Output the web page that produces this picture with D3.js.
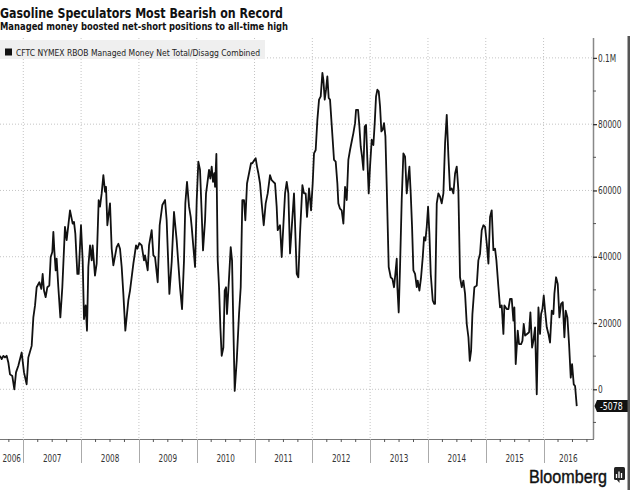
<!DOCTYPE html>
<html><head><meta charset="utf-8">
<script src="https://cdn.jsdelivr.net/npm/d3@7"></script>
<style>html,body{margin:0;padding:0;background:#fff;}svg{display:block;}</style>
</head><body>
<svg id="c" width="630" height="490"></svg>
<script>
const titleText = "Gasoline Speculators Most Bearish on Record";
const subtitleText = "Managed money boosted net-short positions to all-time high";
const legendText = "CFTC NYMEX RBOB Managed Money Net Total/Disagg Combined";
const yearLabels = ["2006","2007","2008","2009","2010","2011","2012","2013","2014","2015","2016"];
const yTickValues = [0, 20, 40, 60, 80, 100];
const yTickLabels = ["0", "20000", "40000", "60000", "80000", "0.1M"];
const lastLabel = "-5078";

// decimal years
const dates = [
2006.597,2006.626,2006.655,2006.683,2006.712,2006.741,2006.770,2006.810,2006.845,2006.874,2006.914,2006.972,
2007.012,2007.058,2007.087,2007.145,2007.174,2007.203,2007.231,2007.278,2007.312,2007.335,2007.358,2007.387,
2007.416,2007.450,2007.474,2007.502,2007.520,2007.537,2007.560,2007.577,2007.606,2007.641,2007.675,2007.721,
2007.750,2007.808,2007.854,2007.877,2007.900,2007.935,2007.958,2007.998,
2008.027,2008.050,2008.079,2008.102,2008.125,2008.154,2008.183,2008.200,2008.240,2008.269,2008.304,2008.327,
2008.356,2008.385,2008.414,2008.431,2008.454,2008.500,2008.529,2008.558,2008.615,2008.644,2008.673,2008.702,
2008.731,2008.765,2008.817,2008.846,2008.904,2008.950,2008.973,
2009.008,2009.048,2009.088,2009.106,2009.152,2009.175,2009.221,2009.250,2009.279,2009.325,2009.359,2009.405,
2009.452,2009.480,2009.527,2009.567,2009.607,2009.653,2009.682,2009.711,2009.746,2009.780,2009.803,2009.832,
2009.867,2009.896,2009.913,2009.942,2009.971,
2010.000,2010.028,2010.057,2010.086,2010.109,2010.144,2010.161,2010.184,2010.213,2010.236,2010.259,2010.282,
2010.305,2010.317,2010.340,2010.363,2010.386,2010.409,2010.432,2010.461,2010.484,2010.507,2010.524,2010.547,
2010.588,2010.611,2010.634,2010.657,2010.692,2010.732,2010.761,2010.789,2010.818,2010.841,2010.870,2010.905,
2010.939,2010.962,2010.997,
2011.020,2011.043,2011.066,2011.095,2011.124,2011.159,2011.193,2011.228,2011.268,2011.297,2011.326,2011.355,
2011.383,2011.401,2011.441,2011.470,2011.499,2011.528,2011.557,2011.585,2011.614,2011.683,2011.730,2011.758,
2011.787,2011.828,2011.856,2011.885,2011.908,2011.943,2011.978,
2012.006,2012.029,2012.058,2012.087,2012.116,2012.145,2012.174,2012.191,2012.214,2012.237,2012.260,2012.283,
2012.306,2012.329,2012.352,2012.375,2012.404,2012.433,2012.450,2012.479,2012.508,2012.537,2012.566,2012.595,
2012.623,2012.652,2012.687,2012.710,2012.739,2012.756,2012.791,2012.814,2012.837,2012.860,2012.883,2012.906,
2012.929,2012.952,2012.975,2012.998,
2013.027,2013.056,2013.079,2013.102,2013.125,2013.148,2013.171,2013.194,2013.217,2013.240,2013.264,2013.287,
2013.304,2013.321,2013.356,2013.385,2013.413,2013.436,2013.460,2013.471,2013.494,2013.517,2013.546,2013.575,
2013.604,2013.633,2013.661,2013.679,2013.702,2013.725,2013.748,2013.777,2013.806,2013.823,2013.852,2013.881,
2013.910,2013.933,2013.956,2013.979,
2014.002,2014.025,2014.048,2014.083,2014.106,2014.123,2014.152,2014.180,2014.209,2014.238,2014.267,2014.296,
2014.325,2014.354,2014.382,2014.411,2014.440,2014.469,2014.498,2014.526,2014.555,2014.584,2014.613,2014.642,
2014.671,2014.700,2014.723,2014.746,2014.769,2014.803,2014.844,2014.872,2014.901,2014.930,2014.959,2014.988,
2015.017,2015.046,2015.074,2015.103,2015.132,2015.161,2015.184,2015.219,2015.247,2015.276,2015.305,2015.322,
2015.363,2015.392,2015.420,2015.449,2015.478,2015.495,2015.518,2015.553,2015.576,2015.611,2015.634,2015.657,
2015.680,2015.714,2015.749,2015.772,2015.801,2015.824,2015.853,2015.882,2015.911,2015.939,2015.957,2015.980,
2016.003,2016.026,2016.055,2016.084,2016.112,2016.141,2016.170,2016.187,2016.216,2016.245,2016.274,2016.303,
2016.332,2016.360,2016.383,2016.412,2016.441,2016.470,2016.493,2016.522,2016.545,2016.574
];
// net position, thousands of contracts
const values = [
10.1,9.1,10.1,9.6,10.1,8.1,4.5,4.0,0.0,5.1,7.1,11.1,
5.1,1.5,9.6,13.1,21.7,25.3,30.8,32.3,30.3,34.8,29.8,27.8,
30.8,31.3,39.9,41.4,47.5,41.9,35.9,39.4,30.8,21.7,30.8,49.0,
45.0,54.0,50.0,50.5,47.0,34.8,34.8,49.5,
38.9,21.2,25.3,17.7,36.9,43.4,38.9,43.4,34.3,37.9,57.1,55.1,
59.1,64.6,59.6,61.1,49.5,56.1,42.4,37.4,42.9,43.9,42.4,36.9,
28.8,17.7,26.8,29.8,37.9,43.4,42.4,
44.1,43.4,38.9,40.4,35.9,43.4,48.0,40.4,39.9,32.3,49.5,55.6,
57.1,51.0,28.8,38.4,53.5,45.0,37.9,30.8,24.2,38.9,56.1,62.6,
55.1,52.0,49.0,42.9,36.9,
57.1,68.7,66.2,53.0,41.9,51.0,59.1,62.1,66.2,63.6,67.2,62.6,
65.2,61.1,71.0,38.9,30.8,18.7,10.1,12.6,29.8,30.8,22.7,29.8,
42.9,38.9,18.7,-0.5,8.6,22.7,30.8,57.1,57.1,51.0,62.1,65.2,
68.2,68.2,69.2,
69.7,67.2,65.2,62.1,56.1,49.5,56.1,59.1,64.6,63.1,62.6,62.1,
55.1,48.0,49.5,39.9,49.5,59.1,62.6,59.1,41.0,59.1,34.8,33.8,
47.0,61.6,59.1,59.1,52.0,60.6,54.0,
62.1,71.2,72.2,81.3,87.4,88.4,95.5,93.4,87.4,90.4,94.4,87.9,
87.4,81.3,75.3,69.2,68.7,62.1,56.1,54.5,54.0,50.0,61.1,57.1,
69.2,72.2,75.3,77.3,80.3,84.3,84.3,79.3,73.2,70.2,66.2,79.3,
79.8,69.2,59.1,67.2,
75.3,73.7,80.3,88.4,90.4,89.9,85.4,77.8,78.3,80.3,76.3,61.1,
49.0,36.9,33.8,33.3,30.8,34.8,39.4,30.8,23.2,36.9,57.1,71.2,
70.2,59.1,64.1,67.2,59.1,49.0,35.9,34.8,30.8,32.8,29.8,33.8,
39.9,45.9,44.9,49.0,
55.1,47.0,34.8,26.8,25.8,25.8,56.1,59.1,58.1,56.1,59.1,74.2,
82.8,70.2,60.1,60.6,59.1,65.1,67.2,60.1,33.8,30.8,32.8,28.8,
19.7,15.7,8.6,11.6,22.7,30.8,31.3,38.9,40.9,48.0,49.5,49.0,
44.0,37.9,52.0,54.0,42.0,42.4,38.9,30.8,24.7,25.3,16.7,25.3,
24.2,24.2,27.3,27.3,20.7,24.7,7.6,17.7,13.6,13.6,14.6,19.7,
16.2,16.7,17.2,23.2,12.6,14.6,18.7,-1.5,24.7,16.7,22.7,24.2,
28.3,23.7,18.7,16.7,14.1,23.7,22.7,28.8,33.8,31.8,21.7,25.8,
26.3,15.7,23.7,21.7,13.6,3.5,7.6,1.5,1.0,-5.078
];

const svg = d3.select("#c");
const L = 0, R = 593, T = 38, B = 439;
const x = d3.scaleLinear().domain([2006.597, 2016.855]).range([L, R]);
const y = d3.scaleLinear().domain([-15, 106]).range([B, T]);
const font = "'DejaVu Sans', Verdana, sans-serif";

function squeeze(sel, factor) {
  sel.each(function () {
    const w = this.getComputedTextLength();
    this.setAttribute("textLength", (w * factor).toFixed(2));
    this.setAttribute("lengthAdjust", "spacingAndGlyphs");
  });
}
function fitTo(sel, w) {
  sel.attr("textLength", w).attr("lengthAdjust", "spacingAndGlyphs");
}

// Title
svg.append("text").attr("x", 0).attr("y", 17.5).attr("font-family", font)
  .attr("font-weight", "bold").attr("font-size", 13.5).attr("fill", "#111")
  .text(titleText).call(fitTo, 283);
svg.append("text").attr("x", 0).attr("y", 30).attr("font-family", font)
  .attr("font-weight", "bold").attr("font-size", 10).attr("fill", "#111")
  .text(subtitleText).call(fitTo, 288);

// Gridlines
const years = d3.range(2007, 2017);
svg.append("g").selectAll("line").data(years).join("line")
  .attr("x1", d => x(d)).attr("x2", d => x(d)).attr("y1", T).attr("y2", B)
  .attr("stroke", "#c4c4c4").attr("stroke-width", 1).attr("stroke-dasharray", "1,2");
svg.append("g").selectAll("line").data(yTickValues).join("line")
  .attr("x1", L).attr("x2", R).attr("y1", d => y(d)).attr("y2", d => y(d))
  .attr("stroke", "#c4c4c4").attr("stroke-width", 1).attr("stroke-dasharray", "1,2");

// Legend
svg.append("rect").attr("x", 0).attr("y", 40).attr("width", 265).attr("height", 19).attr("fill", "#efefef");
svg.append("rect").attr("x", 5).attr("y", 48.5).attr("width", 7).attr("height", 7).attr("fill", "#111");
svg.append("text").attr("x", 16).attr("y", 55.5).attr("font-family", font)
  .attr("font-size", 9).attr("fill", "#222").text(legendText).call(fitTo, 244);

// Line
const line = d3.line().x((d, i) => x(dates[i])).y(d => y(d));
svg.append("path").datum(values).attr("d", line).attr("fill", "none")
  .attr("stroke", "#111").attr("stroke-width", 1.8).attr("stroke-linejoin", "round");

// Right axis
const yAxis = d3.axisRight(y).tickValues(yTickValues).tickSize(4).tickFormat((d, i) => yTickLabels[i]);
const ya = svg.append("g").attr("transform", `translate(${R},0)`).call(yAxis);
ya.select(".domain").attr("stroke", "#888").attr("stroke-width", 1.5).attr("d", `M0.5,${T}V${B}`);
ya.selectAll(".tick line").attr("stroke", "#333").attr("stroke-width", 1.3);
ya.selectAll(".tick text").attr("x", 5).attr("font-family", font).attr("font-size", 10)
  .attr("fill", "#333").call(squeeze, 0.74);
const minorY = d3.range(-10, 106, 20);
svg.append("g").selectAll("line").data(minorY).join("line")
  .attr("x1", R).attr("x2", R + 3).attr("y1", d => y(d)).attr("y2", d => y(d))
  .attr("stroke", "#555").attr("stroke-width", 1);

// Last value label
const lastV = values[values.length - 1];
const ly = y(lastV);
svg.append("path").attr("d", `M${R + 4},${ly - 6}H630V${ly + 6}H${R + 4}L${R + 1.5},${ly}Z`).attr("fill", "#111");
svg.append("text").attr("x", R + 7).attr("y", ly).attr("dy", "0.35em").attr("font-family", font)
  .attr("font-size", 10).attr("fill", "#fff").text(lastLabel).call(squeeze, 0.78);

// Bottom axis
svg.append("line").attr("x1", L).attr("x2", R + 1).attr("y1", B + 0.5).attr("y2", B + 0.5)
  .attr("stroke", "#777").attr("stroke-width", 1.2);
const quarters = [];
d3.range(2006, 2017).forEach(yr => [0.25, 0.5, 0.75].forEach(q => { if (x(yr + q) > 0 && x(yr + q) < R) quarters.push(yr + q); }));
svg.append("g").selectAll("line").data(quarters).join("line")
  .attr("x1", d => x(d)).attr("x2", d => x(d)).attr("y1", B).attr("y2", B + 3)
  .attr("stroke", "#555").attr("stroke-width", 1);
svg.append("g").selectAll("line").data(years).join("line")
  .attr("x1", d => Math.round(x(d)) + 0.5).attr("x2", d => Math.round(x(d)) + 0.5).attr("y1", B).attr("y2", 463)
  .attr("stroke", "#aaa").attr("stroke-width", 1);
const [d0, d1] = x.domain();
svg.append("g").selectAll("text").data(yearLabels).join("text")
  .attr("x", d => { const s = Math.max(+d, d0), e = Math.min(+d + 1, d1); return x((s + e) / 2); })
  .attr("y", 461.5).attr("text-anchor", "middle").attr("font-family", font).attr("font-size", 11)
  .attr("fill", "#333").text(d => d).call(fitTo, 18.5);

// Right frame edge
svg.append("rect").attr("x", 627.5).attr("y", 36).attr("width", 2.5).attr("height", 454).attr("fill", "#555");

// Bloomberg logo
svg.append("text").attr("x", 529).attr("y", 482.5).attr("font-family", "'Liberation Sans', Arial, sans-serif")
  .attr("font-size", 18).attr("fill", "#111").attr("stroke", "#111").attr("stroke-width", 0.4)
  .text("Bloomberg").call(fitTo, 78);
svg.append("rect").attr("x", 614).attr("y", 467).attr("width", 11).attr("height", 13).attr("rx", 1.5).attr("fill", "#222");
svg.append("path").attr("d", "M616.5,478V474M619,478V471.5M621.5,478V473").attr("stroke", "#fff").attr("stroke-width", 1.3);
svg.append("path").attr("d", "M617,480L619.5,483L619.5,480Z").attr("fill", "#222");
</script>
</body></html>
